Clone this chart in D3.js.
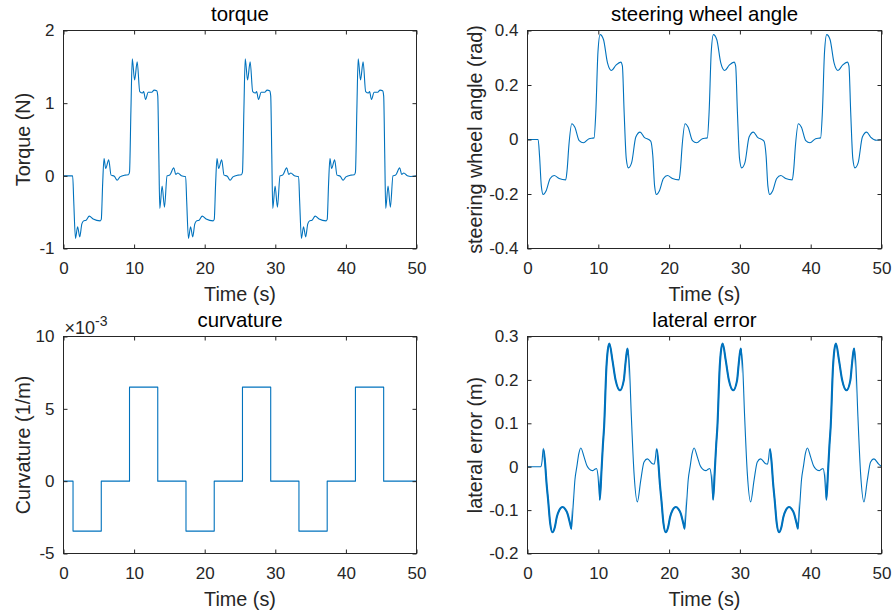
<!DOCTYPE html>
<html>
<head>
<meta charset="utf-8">
<script src="https://cdn.jsdelivr.net/npm/d3@7"></script>
<style>
	body { margin: 0; background: #fff; }
	svg { font-family: "Liberation Sans", Arial, Helvetica, sans-serif; }
</style>
</head>
<body>
<svg id="chart" width="893" height="614"></svg>
<script>
// ---- data ----
const timeTicks = [0, 10, 20, 30, 40, 50];

// torque [t (s), N]
const torque = [
	[0,0],[1.3,0],[1.45,-0.35],[1.7,-0.86],[2.0,-0.70],[2.3,-0.84],[2.6,-0.66],[2.85,-0.62],[3.2,-0.61],[3.65,-0.555],[4.2,-0.595],[5.2,-0.62],[5.35,-0.6],[5.55,-0.1],[5.74,0.237],[5.98,0.10],[6.4,0.22],[6.74,0.01],[7.2,-0.005],[7.6,-0.06],[8.0,-0.015],[8.7,0.01],[9.2,0.015],[9.35,0.05],[9.55,0.9],[9.74,1.61],[10.07,1.32],[10.44,1.57],[10.8,1.16],[11.2,1.14],[11.35,1.16],[11.62,1.05],[12.0,1.15],[12.5,1.15],[12.84,1.18],[13.2,1.17],[13.35,1.1],[13.5,0.3],[13.64,-0.45],[13.97,-0.14],[14.3,-0.43],[14.67,0.0],[15.05,0.01],[15.62,0.11],[15.9,0.02],[16.2,0.04],[16.7,0.0],[17.2,-0.01],
	[17.3,-0.01],[17.45,-0.35],[17.7,-0.86],[18.0,-0.70],[18.3,-0.84],[18.6,-0.66],[18.85,-0.62],[19.2,-0.61],[19.65,-0.555],[20.2,-0.595],[21.2,-0.62],[21.35,-0.6],[21.55,-0.1],[21.74,0.237],[21.98,0.10],[22.4,0.22],[22.74,0.01],[23.2,-0.005],[23.6,-0.06],[24.0,-0.015],[24.7,0.01],[25.2,0.015],[25.35,0.05],[25.55,0.9],[25.74,1.61],[26.07,1.32],[26.44,1.57],[26.8,1.16],[27.2,1.14],[27.35,1.16],[27.62,1.05],[28.0,1.15],[28.5,1.15],[28.84,1.18],[29.2,1.17],[29.35,1.1],[29.5,0.3],[29.64,-0.45],[29.97,-0.14],[30.3,-0.43],[30.67,0.0],[31.05,0.01],[31.62,0.11],[31.9,0.02],[32.2,0.04],[32.7,0.0],[33.2,-0.01],
	[33.3,-0.01],[33.45,-0.35],[33.7,-0.86],[34.0,-0.70],[34.3,-0.84],[34.6,-0.66],[34.85,-0.62],[35.2,-0.61],[35.65,-0.555],[36.2,-0.595],[37.2,-0.62],[37.35,-0.6],[37.55,-0.1],[37.74,0.237],[37.98,0.10],[38.4,0.22],[38.74,0.01],[39.2,-0.005],[39.6,-0.06],[40.0,-0.015],[40.7,0.01],[41.2,0.015],[41.35,0.05],[41.55,0.9],[41.74,1.61],[42.07,1.32],[42.44,1.57],[42.8,1.16],[43.2,1.14],[43.35,1.16],[43.62,1.05],[44.0,1.15],[44.5,1.15],[44.84,1.18],[45.2,1.17],[45.35,1.1],[45.5,0.3],[45.64,-0.45],[45.97,-0.14],[46.3,-0.43],[46.67,0.0],[47.05,0.01],[47.62,0.11],[47.9,0.02],[48.2,0.04],[48.7,0.0],[49.2,-0.01],[50,0.0]
];
const torqueTicks = [-1, 0, 1, 2];

// steering wheel angle [t (s), rad]
const steering = [
	[0,0],[1.5,0],[1.7,-0.06],[1.95,-0.17],[2.22,-0.202],[2.6,-0.19],[3.2,-0.143],[3.77,-0.132],[4.47,-0.143],[5.4,-0.148],[5.6,-0.11],[5.85,-0.02],[6.26,0.058],[6.69,0.045],[7.3,-0.004],[7.9,-0.012],[8.7,0.003],[9.4,0.006],[9.65,0.1],[9.95,0.32],[10.26,0.385],[10.73,0.367],[11.3,0.281],[11.85,0.253],[12.5,0.273],[13.18,0.284],[13.4,0.27],[13.65,0.1],[13.95,-0.07],[14.25,-0.104],[14.7,-0.086],[15.3,0.009],[15.9,0.027],[16.46,0.009],[17.4,-0.006],
	[17.7,-0.06],[17.95,-0.17],[18.22,-0.202],[18.6,-0.19],[19.2,-0.143],[19.77,-0.132],[20.47,-0.143],[21.4,-0.148],[21.6,-0.11],[21.85,-0.02],[22.26,0.058],[22.69,0.045],[23.3,-0.004],[23.9,-0.012],[24.7,0.003],[25.4,0.006],[25.65,0.1],[25.95,0.32],[26.26,0.385],[26.73,0.367],[27.3,0.281],[27.85,0.253],[28.5,0.273],[29.18,0.284],[29.4,0.27],[29.65,0.1],[29.95,-0.07],[30.25,-0.104],[30.7,-0.086],[31.3,0.009],[31.9,0.027],[32.46,0.009],[33.4,-0.006],
	[33.7,-0.06],[33.95,-0.17],[34.22,-0.202],[34.6,-0.19],[35.2,-0.143],[35.77,-0.132],[36.47,-0.143],[37.4,-0.148],[37.6,-0.11],[37.85,-0.02],[38.26,0.058],[38.69,0.045],[39.3,-0.004],[39.9,-0.012],[40.7,0.003],[41.4,0.006],[41.65,0.1],[41.95,0.32],[42.26,0.385],[42.73,0.367],[43.3,0.281],[43.85,0.253],[44.5,0.273],[45.18,0.284],[45.4,0.27],[45.65,0.1],[45.95,-0.07],[46.25,-0.104],[46.7,-0.086],[47.3,0.009],[47.9,0.027],[48.46,0.009],[49.3,-0.003],[50,0.0]
];
const steeringTicks = [-0.4, -0.2, 0, 0.2, 0.4];

// curvature [t (s), 1/m], piecewise constant
const curvature = [
	[0,0],[1.35,-0.00345],[5.35,0],[9.35,0.0065],[13.35,0],
	[17.35,-0.00345],[21.35,0],[25.35,0.0065],[29.35,0],
	[33.35,-0.00345],[37.35,0],[41.35,0.0065],[45.35,0],[50,0]
];
const curvatureTicks = [-0.005, 0, 0.005, 0.01];

// lateral error [t (s), m]
const latError = [
	[0,0],[1.9,0],[2.05,0.012],[2.22,0.0415],[2.45,0.015],[2.7,-0.04],[2.92,-0.078],[3.2,-0.13],[3.53,-0.151],[3.85,-0.14],[4.14,-0.116],[4.5,-0.1],[4.94,-0.093],[5.3,-0.097],[5.65,-0.108],[6.0,-0.13],[6.21,-0.143],[6.45,-0.09],[6.7,-0.03],[6.97,0.0],[7.25,0.03],[7.53,0.043],[8.0,0.022],[8.4,0.002],[8.7,-0.005],[9.2,-0.009],[9.5,-0.006],[9.74,-0.004],[9.95,-0.02],[10.21,-0.076],[10.45,-0.01],[10.65,0.05],[10.82,0.092],[11.15,0.23],[11.35,0.27],[11.57,0.284],[12.0,0.245],[12.45,0.199],[13.06,0.176],[13.6,0.199],[13.85,0.24],[14.11,0.272],[14.35,0.245],[14.67,0.115],[15.05,-0.016],[15.52,-0.081],[15.99,-0.032],[16.46,0.011],[16.93,0.018],[17.64,0.007],
	[17.9,0.006],[18.05,0.018],[18.22,0.0415],[18.45,0.015],[18.7,-0.04],[18.92,-0.078],[19.2,-0.13],[19.53,-0.151],[19.85,-0.14],[20.14,-0.116],[20.5,-0.1],[20.94,-0.093],[21.3,-0.097],[21.65,-0.108],[22.0,-0.13],[22.21,-0.143],[22.45,-0.09],[22.7,-0.03],[22.97,0.0],[23.25,0.03],[23.53,0.043],[24.0,0.022],[24.4,0.002],[24.7,-0.005],[25.2,-0.009],[25.5,-0.006],[25.74,-0.004],[25.95,-0.02],[26.21,-0.076],[26.45,-0.01],[26.65,0.05],[26.82,0.092],[27.15,0.23],[27.35,0.27],[27.57,0.284],[28.0,0.245],[28.45,0.199],[29.06,0.176],[29.6,0.199],[29.85,0.24],[30.11,0.272],[30.35,0.245],[30.67,0.115],[31.05,-0.016],[31.52,-0.081],[31.99,-0.032],[32.46,0.011],[32.93,0.018],[33.64,0.007],
	[33.9,0.006],[34.05,0.018],[34.22,0.0415],[34.45,0.015],[34.7,-0.04],[34.92,-0.078],[35.2,-0.13],[35.53,-0.151],[35.85,-0.14],[36.14,-0.116],[36.5,-0.1],[36.94,-0.093],[37.3,-0.097],[37.65,-0.108],[38.0,-0.13],[38.21,-0.143],[38.45,-0.09],[38.7,-0.03],[38.97,0.0],[39.25,0.03],[39.53,0.043],[40.0,0.022],[40.4,0.002],[40.7,-0.005],[41.2,-0.009],[41.5,-0.006],[41.74,-0.004],[41.95,-0.02],[42.21,-0.076],[42.45,-0.01],[42.65,0.05],[42.82,0.092],[43.15,0.23],[43.35,0.27],[43.57,0.284],[44.0,0.245],[44.45,0.199],[45.06,0.176],[45.6,0.199],[45.85,0.24],[46.11,0.272],[46.35,0.245],[46.67,0.115],[47.05,-0.016],[47.52,-0.081],[47.99,-0.032],[48.46,0.011],[48.93,0.018],[49.6,0.006],[50,0.0]
];
// time windows where the lateral error trace shows the fast jitter band
const latErrorJitter = [[2.25,6.3],[10.1,14.3],[18.25,22.3],[26.1,30.3],[34.25,38.3],[42.1,46.3]];
const latErrorTicks = [-0.2, -0.1, 0, 0.1, 0.2, 0.3];

// ---- style ----
const INK = "#262626";
const LINE = "#0072BD";
const TICK_FS = 17, LABEL_FS = 19.8, TITLE_FS = 20.4;

const svg = d3.select("#chart");

drawPanel({ id: "tq", x0: 63.5, x1: 416.5, y0: 30.5, y1: 248.5, data: torque, yDomain: [-1, 2], yTicks: torqueTicks,
	title: "torque", yLabel: "Torque (N)", yLabelX: 30 });
drawPanel({ id: "sw", x0: 527.5, x1: 881.5, y0: 30.5, y1: 248.5, data: steering, yDomain: [-0.4, 0.4], yTicks: steeringTicks,
	title: "steering wheel angle", yLabel: "steering wheel angle (rad)", yLabelX: 482 });
drawPanel({ id: "cv", x0: 63.5, x1: 416.5, y0: 336.5, y1: 553.5, data: curvature, yDomain: [-0.005, 0.01], yTicks: curvatureTicks,
	fmt: d => String(Math.round(d * 1000)), curve: d3.curveStepAfter, exponent: "-3",
	title: "curvature", yLabel: "Curvature (1/m)", yLabelX: 30 });
drawPanel({ id: "le", x0: 527.5, x1: 881.5, y0: 336.5, y1: 553.5, data: latError, yDomain: [-0.2, 0.3], yTicks: latErrorTicks,
	jitter: latErrorJitter, title: "lateral error", yLabel: "lateral error (m)", yLabelX: 482 });

/**
 * one MATLAB-like subplot: boxed axes, inward ticks on all four sides
 */
function drawPanel(cfg) {
	const fmt = cfg.fmt || (d => String(d));

	const x = d3.scaleLinear().domain([0, 50]).range([cfg.x0, cfg.x1]);
	const y = d3.scaleLinear().domain(cfg.yDomain).range([cfg.y1, cfg.y0]);

	const g = svg.append("g").attr("class", "panel-" + cfg.id);

	// data line (drawn first, the box sits on top)
	const line = d3.line()
		.x(d => x(d[0]))
		.y(d => y(d[1]))
		.curve(cfg.curve || d3.curveMonotoneX);

	g.append("path")
		.datum(cfg.data)
		.attr("fill", "none")
		.attr("stroke", LINE)
		.attr("stroke-width", 1.1)
		.attr("stroke-linejoin", "round")
		.attr("d", line);

	// jitter band: same trace, thicker, only inside the listed windows
	if (cfg.jitter) {
		const clip = g.append("clipPath").attr("id", "clip-" + cfg.id);
		clip.selectAll("rect")
			.data(cfg.jitter)
			.join("rect")
			.attr("x", d => x(d[0]))
			.attr("width", d => x(d[1]) - x(d[0]))
			.attr("y", cfg.y0)
			.attr("height", cfg.y1 - cfg.y0);

		g.append("path")
			.datum(cfg.data)
			.attr("fill", "none")
			.attr("stroke", LINE)
			.attr("stroke-width", 2.1)
			.attr("clip-path", `url(#clip-${cfg.id})`)
			.attr("d", line);
	}

	// bottom axis with labels
	g.append("g")
		.attr("transform", `translate(0, ${cfg.y1})`)
		.style("color", INK)
		.call(d3.axisBottom(x).tickValues(timeTicks).tickSize(-4).tickPadding(13).tickFormat(d => String(d)))
		.call(a => a.select(".domain").remove())
		.call(a => a.selectAll("text").attr("font-size", TICK_FS).attr("font-family", null));

	// top axis, ticks only
	g.append("g")
		.attr("transform", `translate(0, ${cfg.y0})`)
		.style("color", INK)
		.call(d3.axisTop(x).tickValues(timeTicks).tickSize(-4).tickFormat(""))
		.call(a => a.select(".domain").remove());

	// left axis with labels
	g.append("g")
		.attr("transform", `translate(${cfg.x0}, 0)`)
		.style("color", INK)
		.call(d3.axisLeft(y).tickValues(cfg.yTicks).tickSize(-4).tickPadding(9).tickFormat(fmt))
		.call(a => a.select(".domain").remove())
		.call(a => a.selectAll("text").attr("font-size", TICK_FS).attr("font-family", null));

	// right axis, ticks only
	g.append("g")
		.attr("transform", `translate(${cfg.x1}, 0)`)
		.style("color", INK)
		.call(d3.axisRight(y).tickValues(cfg.yTicks).tickSize(-4).tickFormat(""))
		.call(a => a.select(".domain").remove());

	// box
	g.append("rect")
		.attr("x", cfg.x0).attr("y", cfg.y0)
		.attr("width", cfg.x1 - cfg.x0).attr("height", cfg.y1 - cfg.y0)
		.attr("fill", "none")
		.attr("stroke", INK)
		.attr("stroke-width", 1);

	// title
	g.append("text")
		.attr("x", (cfg.x0 + cfg.x1) / 2)
		.attr("y", cfg.y0 - 10)
		.attr("text-anchor", "middle")
		.attr("font-size", TITLE_FS)
		.attr("fill", "#000")
		.text(cfg.title);

	// x label
	g.append("text")
		.attr("x", (cfg.x0 + cfg.x1) / 2)
		.attr("y", cfg.y1 + 52)
		.attr("text-anchor", "middle")
		.attr("font-size", LABEL_FS)
		.attr("fill", INK)
		.text("Time (s)");

	// y label
	g.append("text")
		.attr("transform", `translate(${cfg.yLabelX}, ${(cfg.y0 + cfg.y1) / 2}) rotate(-90)`)
		.attr("text-anchor", "middle")
		.attr("font-size", LABEL_FS)
		.attr("fill", INK)
		.text(cfg.yLabel);

	// axis exponent, e.g. x10^-3
	if (cfg.exponent) {
		const t = g.append("text")
			.attr("x", cfg.x0 + 1)
			.attr("y", cfg.y0 - 3)
			.attr("fill", INK)
			.style("font-size", "18px");
		t.append("tspan").text("\u00d710");
		t.append("tspan").style("font-size", "14px").attr("dy", -8).text(cfg.exponent);
	}
}
</script>
</body>
</html>
